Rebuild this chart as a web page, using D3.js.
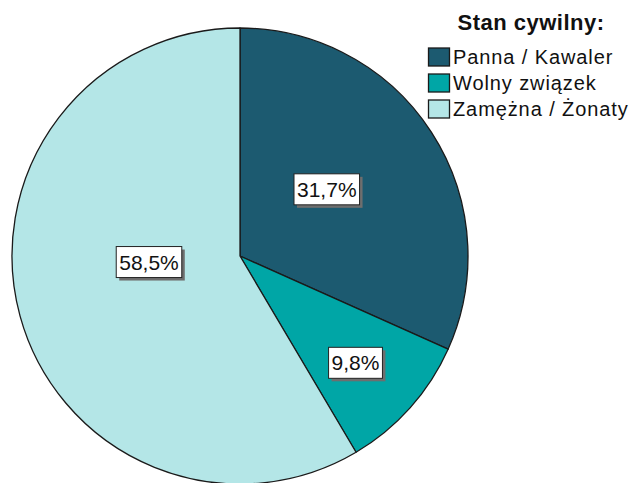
<!DOCTYPE html>
<html>
<head>
<meta charset="utf-8">
<script src="https://cdn.jsdelivr.net/npm/d3@7"></script>
<style>
  html, body { margin: 0; padding: 0; background: #fff; }
  svg { display: block; }
  text { font-family: "Liberation Sans", Arial, sans-serif; }
</style>
</head>
<body>
<script>
// ---- data ----
const categories = ["Panna / Kawaler", "Wolny związek", "Zamężna / Żonaty"];
const percents = [31.7, 9.8, 58.5];
const percentLabels = ["31,7%", "9,8%", "58,5%"];
const colors = ["#1c5a70", "#00a6a6", "#b4e6e7"];
const legendTitle = "Stan cywilny:";
// label placement tweaks (fraction of radius, angle shift in degrees)
const labelRadiusFrac = [0.48, 0.69, 0.40];
const labelAngleShift = [-4.6, 1, 11.5];

const W = 629, H = 483;
const svg = d3.select("body").append("svg").attr("width", W).attr("height", H);

const cx = 240, cy = 256, R = 228;

const pie = d3.pie().sort(null).value(d => d);
const arcs = pie(percents);
const arc = d3.arc().innerRadius(0).outerRadius(R);

const g = svg.append("g").attr("transform", `translate(${cx},${cy})`);
g.selectAll("path.slice").data(arcs).enter().append("path")
  .attr("class", "slice")
  .attr("d", arc)
  .attr("fill", (d, i) => colors[i])
  .attr("stroke", "#1a1a1a")
  .attr("stroke-width", 1.3)
  .attr("stroke-linejoin", "round");

// labels
const lg = g.selectAll("g.lab").data(arcs).enter().append("g").attr("class", "lab")
  .attr("transform", (d, i) => {
    const a = (d.startAngle + d.endAngle) / 2 + labelAngleShift[i] * Math.PI / 180;
    const r = R * labelRadiusFrac[i];
    return `translate(${r * Math.sin(a)},${-r * Math.cos(a)})`;
  });

lg.each(function(d, i) {
  const sel = d3.select(this);
  const t = sel.append("text")
    .attr("text-anchor", "middle")
    .attr("dy", "0.36em")
    .attr("font-size", 21)
    .attr("fill", "#111")
    .text(percentLabels[i]);
  const bb = t.node().getBBox();
  const w = bb.width + 6, h = 31;
  sel.insert("rect", "text")
    .attr("x", -w / 2 + 3).attr("y", -h / 2 + 3)
    .attr("width", w).attr("height", h)
    .attr("fill", "#6e6e6e");
  sel.insert("rect", "text")
    .attr("x", -w / 2).attr("y", -h / 2)
    .attr("width", w).attr("height", h)
    .attr("fill", "#fff")
    .attr("stroke", "#222").attr("stroke-width", 1);
});

// legend
svg.append("text")
  .attr("x", 531).attr("y", 30)
  .attr("text-anchor", "middle")
  .attr("font-size", 22)
  .attr("font-weight", "bold")
  .attr("letter-spacing", 0.5)
  .attr("fill", "#111")
  .text(legendTitle);

const legY = d3.scaleBand().domain(categories).range([44, 122]);
const items = svg.selectAll("g.leg").data(categories).enter().append("g")
  .attr("class", "leg")
  .attr("transform", d => `translate(428,${legY(d) + legY.bandwidth() / 2})`);
items.append("rect")
  .attr("x", 0.5).attr("y", -9)
  .attr("width", 21).attr("height", 18)
  .attr("fill", (d, i) => colors[i])
  .attr("stroke", "#1a1a1a").attr("stroke-width", 1.3);
items.append("text")
  .attr("x", 25).attr("y", 0).attr("dy", "0.36em")
  .attr("font-size", 20)
  .attr("letter-spacing", 0.9)
  .attr("fill", "#111")
  .text(d => d);
</script>
</body>
</html>
